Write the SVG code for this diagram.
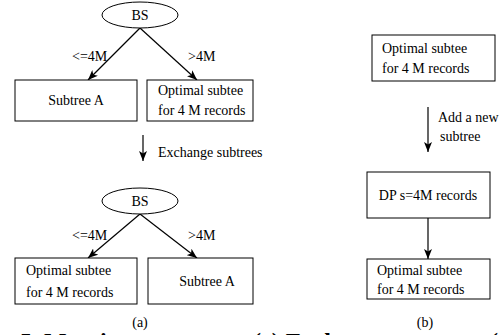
<svg xmlns="http://www.w3.org/2000/svg" width="501" height="335" viewBox="0 0 501 335">
<style>
text{font-family:"Liberation Serif","Times New Roman",serif;font-size:14px;fill:#000}
.box{fill:#fff;stroke:#000;stroke-width:1}
.c{text-anchor:middle}
.edge{stroke:#000;stroke-width:1.2;fill:none;marker-end:url(#ah)}
.cap{font-weight:bold;font-size:24px}
</style>
<defs>
<marker id="ah" viewBox="0 0 10 8" refX="10" refY="4" markerWidth="10" markerHeight="8" markerUnits="userSpaceOnUse" orient="auto">
<path d="M0,0 L10,4 L0,8 L2.5,4 Z" fill="#000"/>
</marker>
</defs>
<rect width="501" height="335" fill="#fff"/>
<g id="connectors">
<line class="edge" x1="140" y1="28" x2="88" y2="80"/>
<line class="edge" x1="140" y1="28" x2="197" y2="80"/>
<line class="edge" x1="143" y1="135" x2="143" y2="161"/>
<line class="edge" x1="140" y1="214" x2="88" y2="258"/>
<line class="edge" x1="140" y1="214" x2="197" y2="258"/>
<line class="edge" x1="428" y1="107" x2="428" y2="152"/>
<line class="edge" x1="428" y1="218" x2="428" y2="259"/>
<text x="72" y="61">&lt;=4M</text>
<text x="188" y="61">&gt;4M</text>
<text x="158" y="157">Exchange subtrees</text>
<text x="72" y="240">&lt;=4M</text>
<text x="188" y="240">&gt;4M</text>
<text x="438" y="122">Add a new</text>
<text x="440" y="141">subtree</text>
</g>
<g id="bs1"><ellipse class="box" cx="140" cy="15" rx="38" ry="13"/><text class="c" x="140" y="20">BS</text></g>
<g id="subtreeA1"><rect class="box" x="15" y="80" width="122" height="41"/><text class="c" x="76" y="105">Subtree A</text></g>
<g id="optimal1"><rect class="box" x="147" y="80" width="106" height="41"/><text x="158" y="95">Optimal subtee</text><text x="158" y="115">for 4 M records</text></g>
<g id="bs2"><ellipse class="box" cx="140" cy="201" rx="38" ry="13"/><text class="c" x="140" y="206">BS</text></g>
<g id="optimal2"><rect class="box" x="15" y="258" width="122" height="46"/><text x="26" y="275">Optimal subtee</text><text x="26" y="297">for 4 M records</text></g>
<g id="subtreeA2"><rect class="box" x="148" y="258" width="105" height="46"/><text class="c" x="207" y="286">Subtree A</text></g>
<text class="c" x="140" y="327">(a)</text>
<g id="optimal3"><rect class="box" x="372" y="35" width="123" height="46"/><text x="382" y="53">Optimal subtee</text><text x="382" y="73">for 4 M records</text></g>
<g id="dp"><rect class="box" x="367" y="172" width="123" height="46"/><text class="c" x="428" y="200">DP s=4M records</text></g>
<g id="optimal4"><rect class="box" x="367" y="259" width="123" height="40"/><text x="377" y="275">Optimal subtee</text><text x="377" y="294">for 4 M records</text></g>
<text class="c" x="425" y="327">(b)</text>
<text class="cap" x="20" y="349">5. Merging</text>
<text class="cap" x="253" y="349">(c) Exchange</text>
<text class="cap" x="490" y="349">(</text>
</svg>
